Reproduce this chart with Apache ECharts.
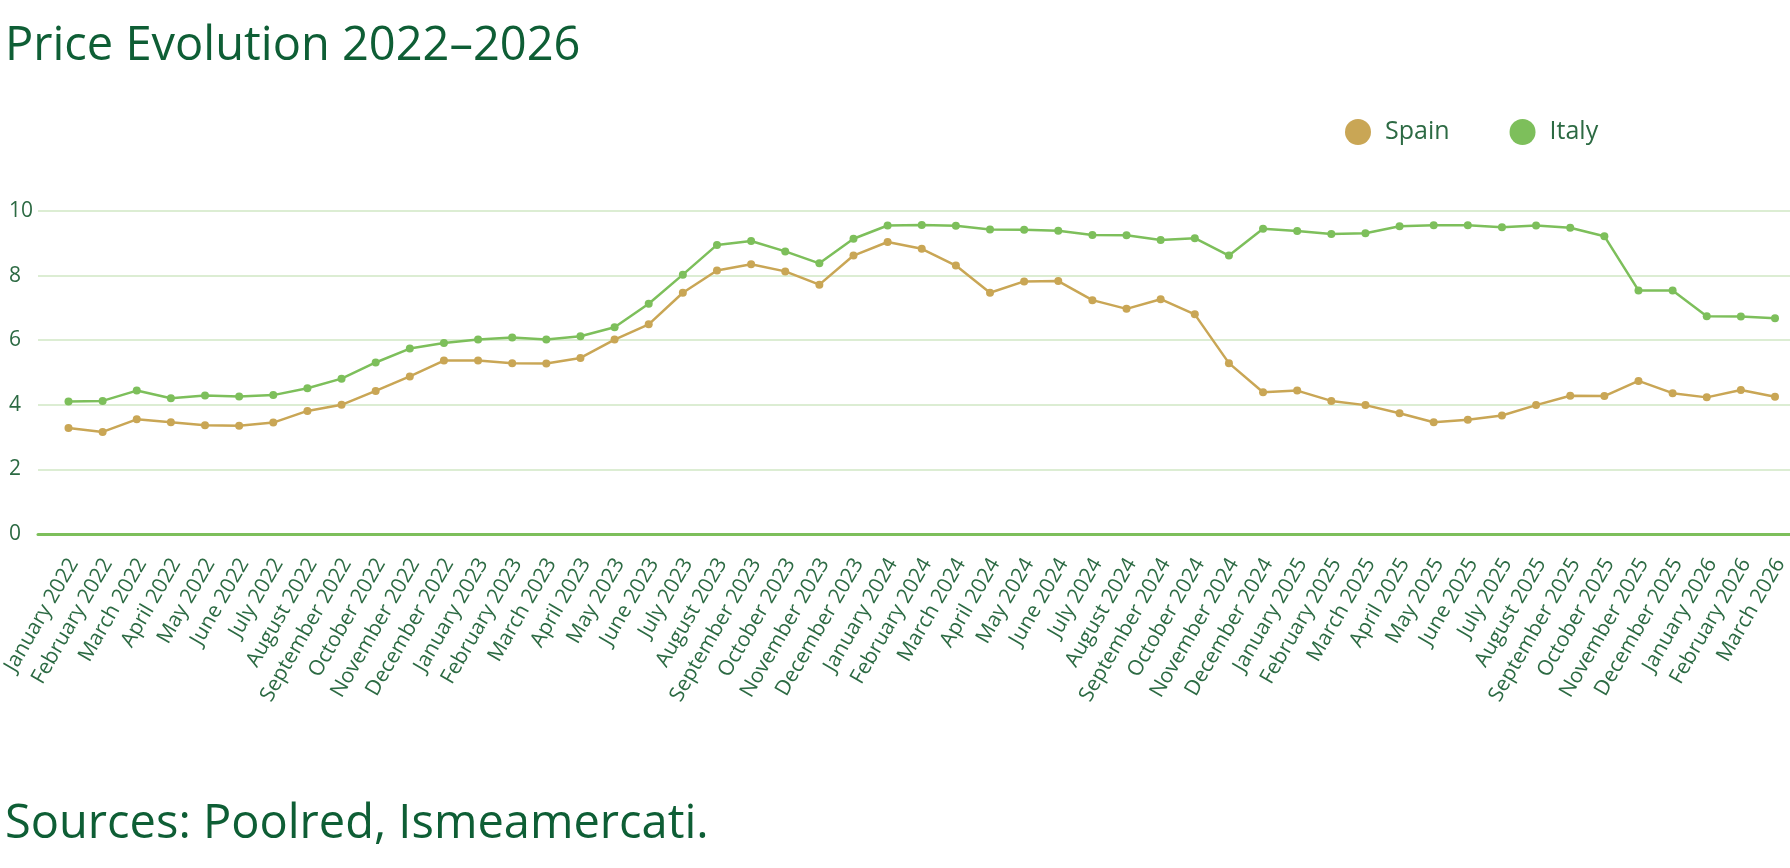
<!DOCTYPE html>
<html>
<head>
<meta charset="utf-8">
<script src="https://cdn.jsdelivr.net/npm/echarts@6/dist/echarts.min.js"></script>
<style>
html,body{margin:0;padding:0;background:#fff;}
#chart{width:1790px;height:868px;}
</style>
</head>
<body>
<div id="chart"></div>
<script>
const months = ["January 2022","February 2022","March 2022","April 2022","May 2022","June 2022","July 2022","August 2022","September 2022","October 2022","November 2022","December 2022",
"January 2023","February 2023","March 2023","April 2023","May 2023","June 2023","July 2023","August 2023","September 2023","October 2023","November 2023","December 2023",
"January 2024","February 2024","March 2024","April 2024","May 2024","June 2024","July 2024","August 2024","September 2024","October 2024","November 2024","December 2024",
"January 2025","February 2025","March 2025","April 2025","May 2025","June 2025","July 2025","August 2025","September 2025","October 2025","November 2025","December 2025",
"January 2026","February 2026","March 2026"];

const spain = [3.28,3.16,3.55,3.46,3.37,3.35,3.45,3.81,4.00,4.43,4.88,5.37,
5.37,5.29,5.28,5.45,6.02,6.49,7.47,8.16,8.35,8.13,7.72,8.62,
9.04,8.83,8.31,7.47,7.82,7.83,7.24,6.97,7.27,6.80,5.29,4.39,
4.44,4.12,3.99,3.74,3.46,3.54,3.67,3.99,4.28,4.27,4.74,4.36,
4.23,4.46,4.25];

const italy = [4.10,4.12,4.44,4.20,4.29,4.26,4.30,4.51,4.81,5.31,5.74,5.91,
6.02,6.08,6.02,6.12,6.40,7.13,8.03,8.95,9.07,8.75,8.38,9.14,
9.55,9.57,9.54,9.43,9.42,9.39,9.26,9.25,9.10,9.16,8.62,9.45,
9.38,9.29,9.31,9.53,9.56,9.56,9.50,9.55,9.48,9.22,7.54,7.54,
6.74,6.73,6.68];

const yTicks = [0,2,4,6,8,10];

const FONT = 'Open Sans';
const chart = echarts.init(document.getElementById('chart'));
chart.setOption({
  backgroundColor:'#ffffff',
  animation:false,
  textStyle:{fontFamily:FONT},
  title:[
    {text:'Price Evolution 2022–2026',left:0,top:18,textStyle:{fontFamily:FONT,fontSize:47,fontWeight:'normal',color:'#0e5e35'}},
    {text:'Sources: Poolred, Ismeamercati.',left:0,top:796,textStyle:{fontFamily:FONT,fontSize:47,fontWeight:'normal',color:'#0e5e35'}}
  ],
  legend:{
    data:['Spain','Italy'],
    left:1340,top:114,
    icon:'circle',itemWidth:26,itemHeight:26,itemGap:60,
    textStyle:{fontFamily:FONT,fontSize:25,color:'#2c6a43',padding:[0,0,0,9]}
  },
  grid:[
    {left:38,right:0,top:211,bottom:334,containLabel:false,outerBoundsMode:'none'},
    {left:68.5,right:15,top:211,bottom:334,containLabel:false,outerBoundsMode:'none'},
    {left:73.5,right:10,top:211,bottom:334,containLabel:false,outerBoundsMode:'none'}
  ],
  xAxis:[
    {gridIndex:0,type:'value',min:0,max:1,show:true,
      axisLine:{show:true,lineStyle:{color:'#7dbf5b',width:3}},
      axisTick:{show:false},axisLabel:{show:false},splitLine:{show:false}},
    {gridIndex:1,type:'category',data:months,boundaryGap:false,
      axisLine:{show:false},axisTick:{show:false},splitLine:{show:false},axisLabel:{show:false}},
    {gridIndex:2,type:'category',data:months,boundaryGap:false,
      axisLine:{show:false},axisTick:{show:false},splitLine:{show:false},
      axisLabel:{interval:0,rotate:60,margin:26,fontFamily:FONT,fontSize:21,color:'#2c6a43'}}
  ],
  yAxis:[
    {gridIndex:0,type:'value',min:yTicks[0],max:yTicks[yTicks.length-1],interval:2,
      axisLine:{show:false},axisTick:{show:false},
      splitLine:{show:true,lineStyle:{color:'#dcedd3',width:2}},
      axisLabel:{align:'left',margin:29,fontFamily:FONT,fontSize:21,color:'#2c6a43',padding:[0,0,15,0]}},
    {gridIndex:1,type:'value',min:0,max:10,interval:2,show:false,splitLine:{show:false}},
    {gridIndex:2,type:'value',min:0,max:10,interval:2,show:false,splitLine:{show:false}}
  ],
  series:[
    {name:'Spain',type:'line',xAxisIndex:1,yAxisIndex:1,data:spain,
      symbol:'circle',symbolSize:8,color:'#c9a655',lineStyle:{width:2.5,color:'#c9a655'},itemStyle:{color:'#c9a655'}},
    {name:'Italy',type:'line',xAxisIndex:1,yAxisIndex:1,data:italy,
      symbol:'circle',symbolSize:8,color:'#7dbf5b',lineStyle:{width:2.5,color:'#7dbf5b'},itemStyle:{color:'#7dbf5b'}}
  ]
});
</script>
</body>
</html>
